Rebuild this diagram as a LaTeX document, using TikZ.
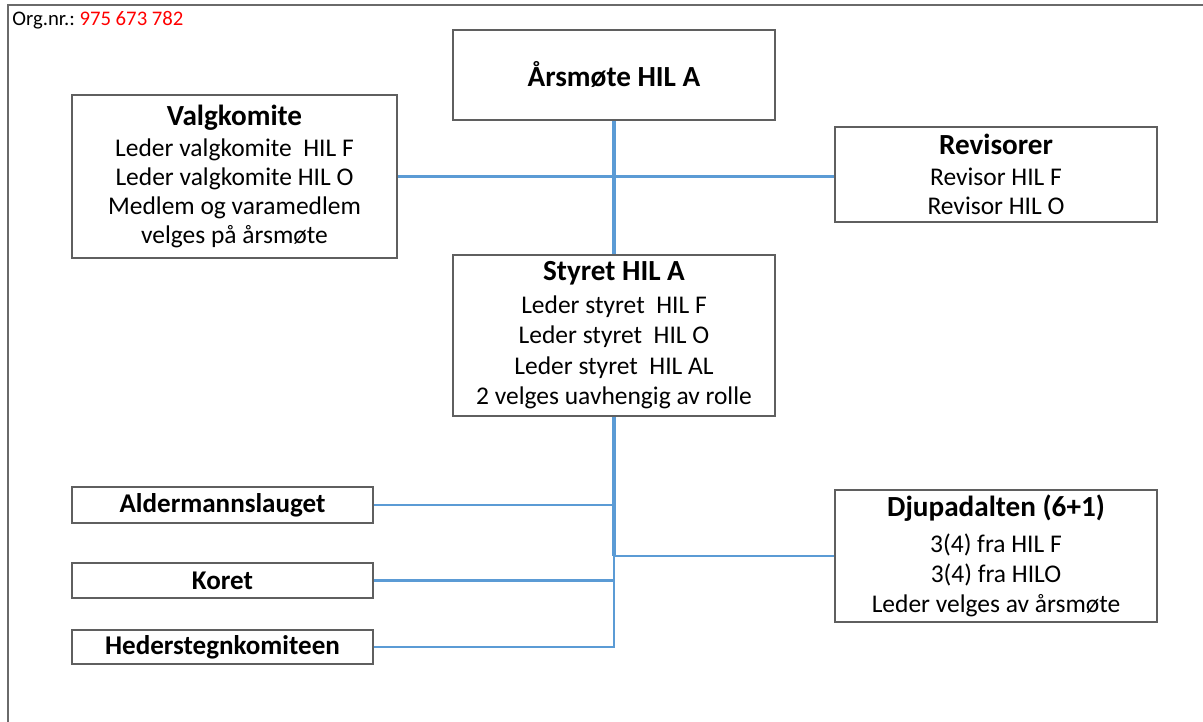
\documentclass[tikz,border=0pt]{standalone}
\usepackage{fontspec}
\setmainfont{Carlito}
\usetikzlibrary{positioning}

\definecolor{boxgray}{HTML}{5F5F5F}
\definecolor{framegray}{HTML}{6A6A6A}
\definecolor{linkblue}{HTML}{5B9BD5}

\newcommand{\boxtitle}[1]{{\fontsize{16.6}{18}\selectfont\bfseries #1}}
\newcommand{\bartitle}[1]{{\fontsize{15.4}{17}\selectfont\bfseries #1}}

\begin{document}
\begin{tikzpicture}[x=0.02cm, y=-0.02cm,
    unit/.style={draw=boxgray, line width=1.1pt, fill=white, align=center,
      inner sep=0pt, font=\fontsize{14.5}{16.6}\selectfont},
    bigunit/.style={unit, minimum width=6.44cm},
    smallunit/.style={unit, minimum width=6.02cm},
    link/.style={draw=linkblue, line width=1.4pt},
    trunk/.style={draw=linkblue, line width=1.9pt}]
        \useasboundingbox (0,0) rectangle (1203,722);

        % frame and org. number
        \draw[framegray, line width=1.6pt] (1203,5) -- (8,5) -- (8,722);
        \node[anchor=west, inner sep=0pt, font=\fontsize{11.8}{13}\selectfont] (orgnr) at (12,20)
          {Org.nr.:\ \textcolor{red}{975\ 673\ 782}};

        % top level
        \node[bigunit, minimum height=1.8cm] (aarsmote) at (614,75) {\boxtitle{Årsmøte HIL A}};
        \node[unit, minimum width=6.5cm, minimum height=3.26cm] (valg) at (234.5,176.5)
          {\boxtitle{Valgkomite}\\[1pt] Leder valgkomite\ \ HIL F\\ Leder valgkomite HIL O\\ Medlem og varamedlem\\ velges på årsmøte};
        \node[bigunit, minimum height=1.9cm] (revisor) at (996,174.5)
          {\boxtitle{Revisorer}\\[1pt] Revisor HIL F\\ Revisor HIL O};
        \node[bigunit, minimum height=3.22cm, font=\fontsize{14.5}{17.4}\selectfont] (styret) at (614,335.5)
          {\boxtitle{Styret HIL A}\\[1pt] Leder styret\ \ HIL F\\ Leder styret\ \ HIL O\\ Leder styret\ \ HIL AL\\ 2 velges uavhengig av rolle};

        % under styret
        \node[smallunit, minimum height=0.72cm] (alder) at (222.5,505) {\bartitle{Aldermannslauget}};
        \node[smallunit, minimum height=0.7cm] (koret) at (222.5,580.5) {\bartitle{Koret}};
        \node[smallunit, minimum height=0.68cm] (heder) at (222.5,647) {\bartitle{Hederstegnkomiteen}};
        \node[bigunit, minimum height=2.64cm, font=\fontsize{14.5}{17.2}\selectfont] (djup) at (996,556)
          {\boxtitle{Djupadalten (6+1)}\\[3pt] 3(4) fra HIL F\\ 3(4) fra HILO\\ Leder velges av årsmøte};

        \coordinate (split) at (614,556);

        \path[trunk] (aarsmote) -- (styret);
        \path[link] (valg.east) -- (valg.east -| revisor.west);
        \path[trunk] (styret.south) -- (split);
        \path[link] (split) -- (djup.west);
        \path[link] (alder.east) -- (alder.east -| split);
        \path[link] (koret.east) -- (koret.east -| split);
        \path[link] (heder.east) -- (heder.east -| split) -- (split);
      \end{tikzpicture}
\end{document}
